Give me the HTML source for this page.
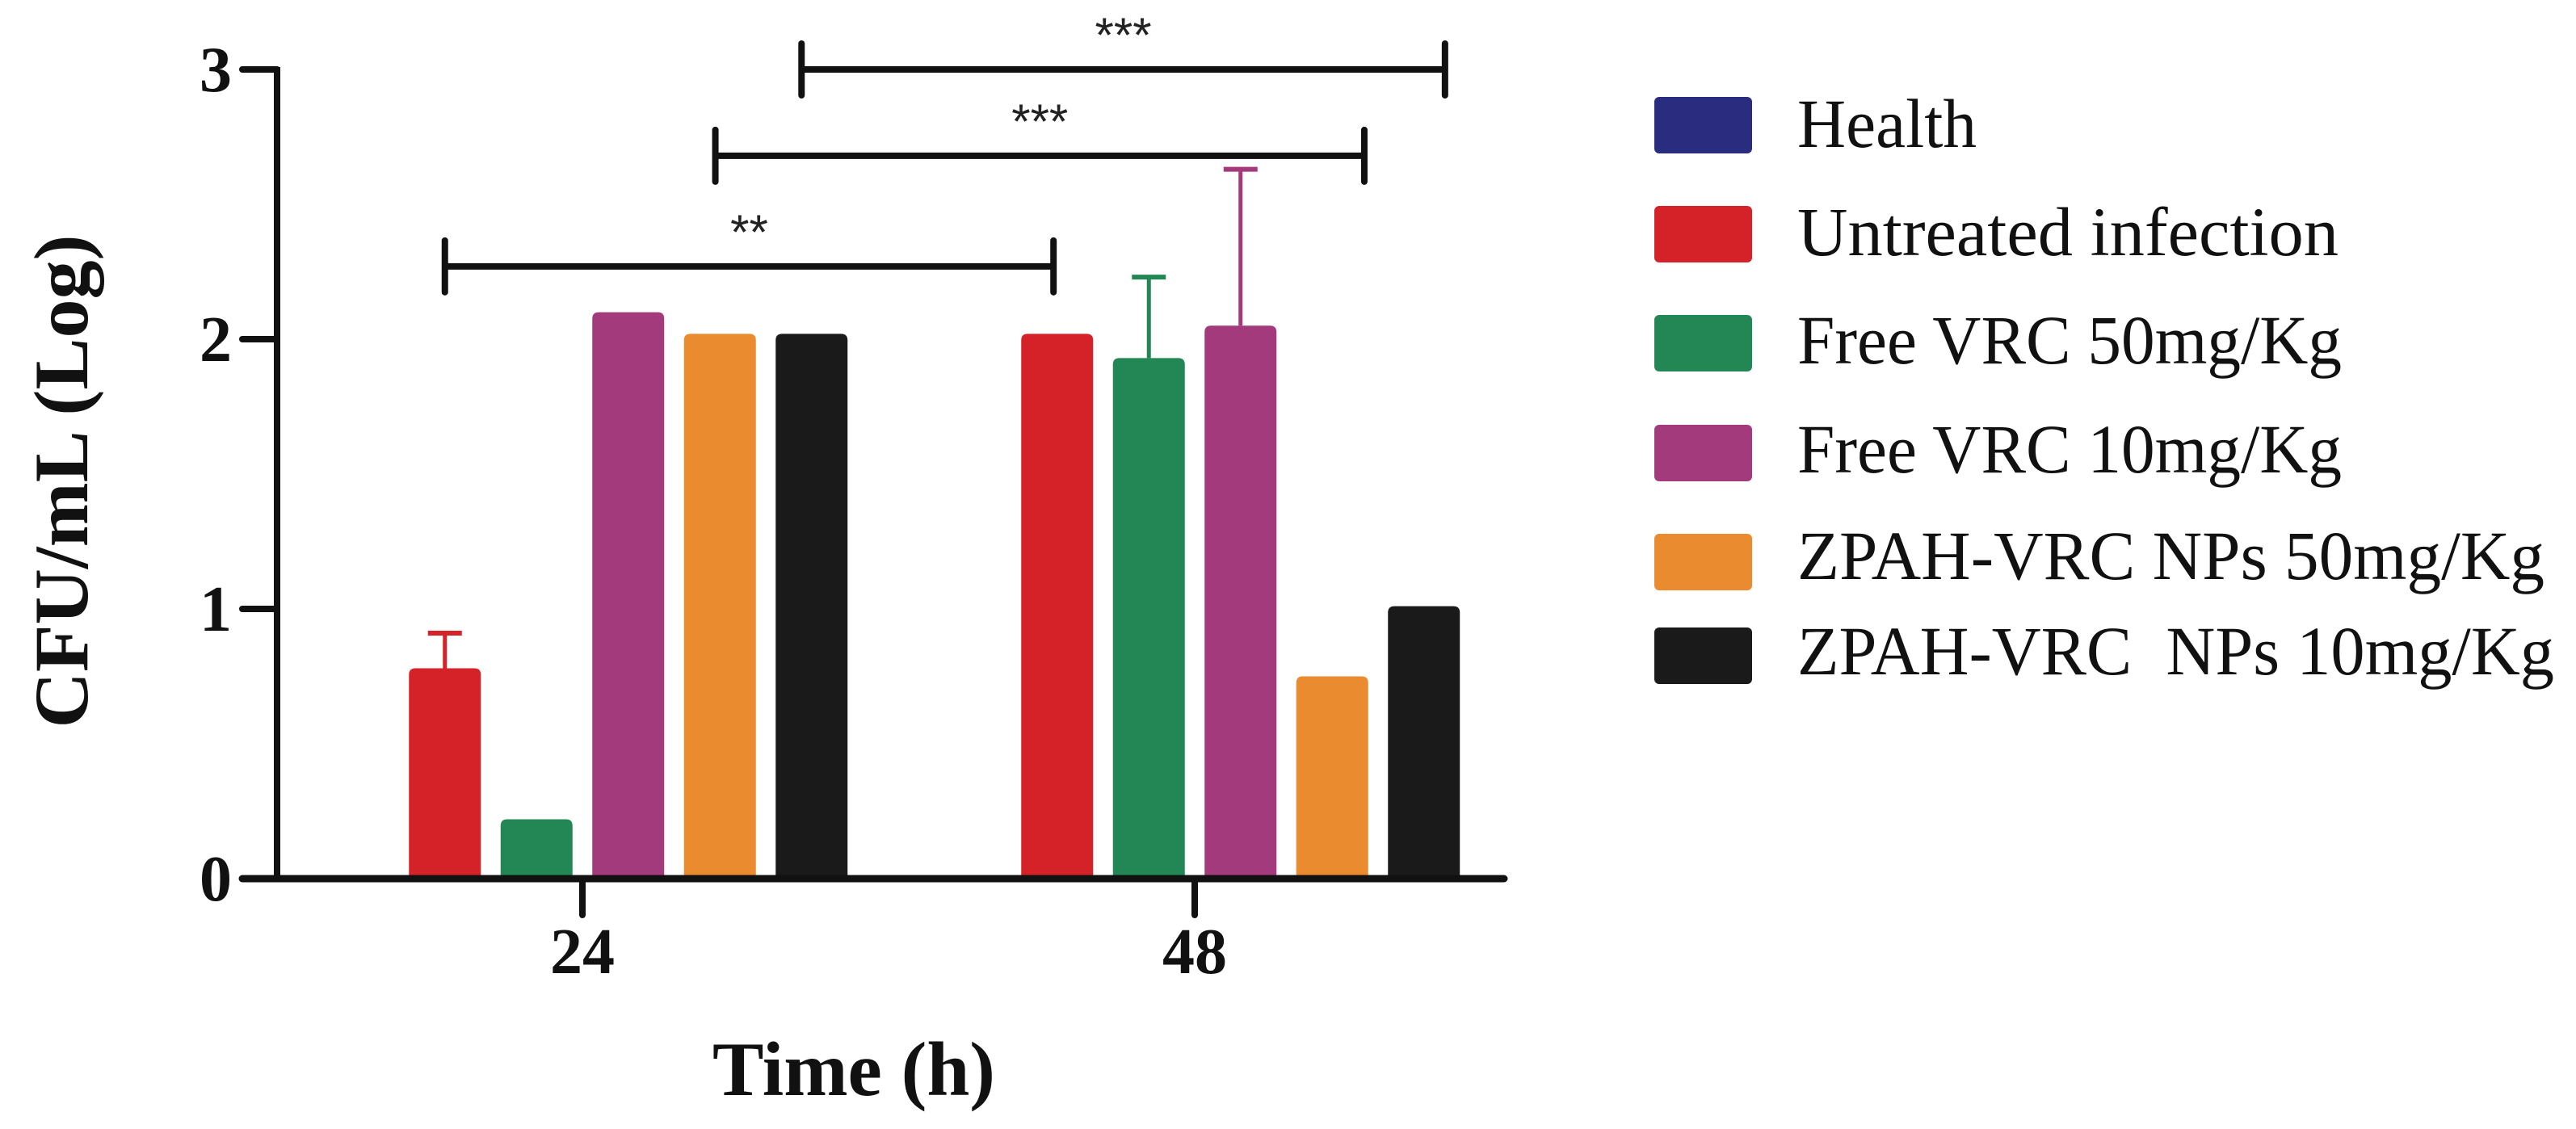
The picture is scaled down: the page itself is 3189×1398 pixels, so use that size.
<!DOCTYPE html>
<html><head><meta charset="utf-8"><style>
html,body{margin:0;padding:0;background:#fff;}
svg{display:block;}
</style></head><body>
<svg id="chart" width="3189" height="1398" viewBox="0 0 3189 1398" xmlns="http://www.w3.org/2000/svg">
<g id="bars"></g>
<g id="axes"></g>
<g id="sig"></g>
<text x="0" y="0" transform="translate(108,596) rotate(-90)" text-anchor="middle" font-family="Liberation Serif, serif" font-weight="bold" font-size="95" textLength="611" lengthAdjust="spacingAndGlyphs" fill="#111">CFU/mL (Log)</text>
<text x="1057" y="1356" text-anchor="middle" font-family="Liberation Serif, serif" font-weight="bold" font-size="95" textLength="350" lengthAdjust="spacingAndGlyphs" fill="#111">Time (h)</text>
<g id="legend"></g>
</svg>
<script>
const categories = ["24", "48"];
const seriesNames = ["Health", "Untreated infection", "Free VRC 50mg/Kg", "Free VRC 10mg/Kg", "ZPAH-VRC NPs 50mg/Kg", "ZPAH-VRC  NPs 10mg/Kg"];
const seriesColors = ["#2a2d7f", "#d52229", "#238755", "#a23a7c", "#e98b2e", "#1b1a1b"];
const values24 = [0, 0.78, 0.22, 2.10, 2.02, 2.02];
const values48 = [0, 2.02, 1.93, 2.05, 0.75, 1.01];
const errors24 = [0, 0.91, null, null, null, null];
const errors48 = [0, null, 2.23, 2.63, null, null];
const yTicks = [0, 1, 2, 3];
const sigLabels = ["**", "***", "***"];
const sigLevels = [2.27, 2.68, 3.0];
const sigFrom = [[0, 1.0], [0, 3.95], [0, 4.89]];
const sigTo = [[1, 0.96], [1, 4.35], [1, 5.23]];
const legendTextLengths = [222, 670, 674, 674, 925, 937];

const NS = "http://www.w3.org/2000/svg";
const X0 = 343, XEND = 1862, Y0 = 1088, PX_PER_UNIT = 334;
const groupCenters = [721, 1479];
const pitch = 113.5, barW = 89;
function yScale(v){ return Y0 - v * PX_PER_UNIT; }
function barX(g, i){ return groupCenters[g] + (i - 2.5) * pitch - barW / 2; }
function slotCenter(g, s){ return groupCenters[g] + (s - 2.5) * pitch; }
function el(tag, attrs, parent){ const e = document.createElementNS(NS, tag); for (const k in attrs) e.setAttribute(k, attrs[k]); parent.appendChild(e); return e; }

const barsG = document.getElementById('bars');
const data = [values24, values48], errs = [errors24, errors48];
data.forEach((vals, g) => {
  vals.forEach((v, i) => {
    const x = barX(g, i);
    const e = errs[g][i];
    if (e !== null && e > v) {
      const cx = x + barW / 2;
      const l = el('line', {x1: cx, x2: cx, y1: yScale(v), y2: yScale(e), stroke: seriesColors[i], 'stroke-width': 5}, barsG);
      
      
      const c = el('line', {x1: cx - 21, x2: cx + 21, y1: yScale(e), y2: yScale(e), stroke: seriesColors[i], 'stroke-width': 6}, barsG);
      
      
    }
    if (v > 0) {
      const r = el('path', {d: `M${x},${Y0} V${yScale(v)+8} Q${x},${yScale(v)} ${x+8},${yScale(v)} H${x+barW-8} Q${x+barW},${yScale(v)} ${x+barW},${yScale(v)+8} V${Y0} Z`, fill: seriesColors[i]}, barsG);
      
      
    }
  });
});

const axesG = document.getElementById('axes');
const ya = el('line', {x1: X0, x2: X0, y1: yScale(3) - 3, y2: Y0, stroke: '#111', 'stroke-width': 8}, axesG);


const xa = el('line', {x1: 300, x2: XEND, y1: Y0, y2: Y0, stroke: '#111', 'stroke-width': 9, 'stroke-linecap': 'round'}, axesG);


yTicks.forEach(t => {
  const y = yScale(t);
  const tk = el('line', {x1: 300, x2: X0, y1: y, y2: y, stroke: '#111', 'stroke-width': 8, 'stroke-linecap': 'round'}, axesG);
  
  
  const lb = el('text', {x: 287, y: y + 27, 'text-anchor': 'end', 'font-family': 'Liberation Serif, serif', 'font-weight': 'bold', 'font-size': 80, fill: '#111'}, axesG);
  lb.textContent = t;
  
  
});
categories.forEach((c, g) => {
  const x = groupCenters[g];
  const tk = el('line', {x1: x, x2: x, y1: Y0, y2: 1133, stroke: '#111', 'stroke-width': 8, 'stroke-linecap': 'round'}, axesG);
  
  
  const lb = el('text', {x: x, y: 1205, 'text-anchor': 'middle', 'font-family': 'Liberation Serif, serif', 'font-weight': 'bold', 'font-size': 80, fill: '#111'}, axesG);
  lb.textContent = c;
  
  
});

const sigG = document.getElementById('sig');
sigLabels.forEach((s, k) => {
  const xa1 = slotCenter(sigFrom[k][0], sigFrom[k][1]);
  const xb1 = slotCenter(sigTo[k][0], sigTo[k][1]);
  const y = yScale(sigLevels[k]);
  const g = el('g', {}, sigG);
  
  
  el('line', {x1: xa1, x2: xb1, y1: y, y2: y, stroke: '#111', 'stroke-width': 8}, g);
  el('line', {x1: xa1, x2: xa1, y1: y - 32, y2: y + 32, stroke: '#111', 'stroke-width': 8, 'stroke-linecap': 'round'}, g);
  el('line', {x1: xb1, x2: xb1, y1: y - 32, y2: y + 32, stroke: '#111', 'stroke-width': 8, 'stroke-linecap': 'round'}, g);
  const t = el('text', {x: (xa1 + xb1) / 2, y: y - 22, 'text-anchor': 'middle', 'font-family': 'Liberation Sans, sans-serif', 'font-size': 60, fill: '#222'}, g);
  t.textContent = s;
  
  
});

const legG = document.getElementById('legend');
const legTops = [120, 255, 390, 526, 661, 777];
const legBase = [182, 316, 450, 585, 717, 835];
seriesNames.forEach((n, i) => {
  const g = el('g', {}, legG);
  
  
  const r = el('rect', {x: 2048, y: legTops[i], width: 121, height: 70, rx: 6, fill: seriesColors[i]}, g);
  
  
  const t = el('text', {x: 2225, y: legBase[i], 'font-family': 'Liberation Serif, serif', 'font-size': 86, fill: '#111', textLength: legendTextLengths[i], lengthAdjust: 'spacingAndGlyphs'}, g);
  t.setAttribute('xml:space', 'preserve');
  t.style.whiteSpace = 'pre';
  t.textContent = n;
  
  
});
</script>
</body></html>
